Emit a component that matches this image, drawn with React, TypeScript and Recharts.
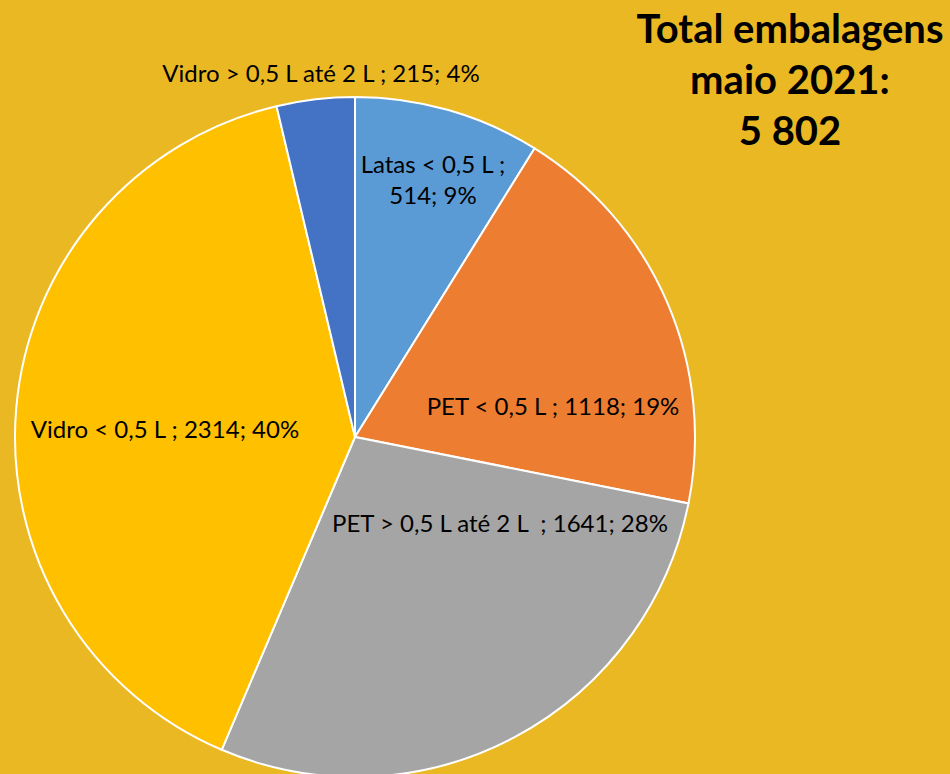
import { PieChart, Pie, Cell } from 'recharts';

const categories = ['Latas < 0,5 L', 'PET < 0,5 L', 'PET > 0,5 L até 2 L ', 'Vidro < 0,5 L', 'Vidro > 0,5 L até 2 L'];
const values = [514, 1118, 1641, 2314, 215];
const percents = ['9%', '19%', '28%', '40%', '4%'];
const colors = ['#5B9BD5', '#ED7D31', '#A5A5A5', '#FFC000', '#4472C4'];
const titleLines = ['Total embalagens', 'maio 2021:', '5 802'];

// label offsets from the pie centre (px), Excel "best fit" style
const labelOffsets: [number, number][] = [
  [78, -257],
  [198, -32],
  [145, 85],
  [-190, -9],
  [-34, -365],
];

const data = categories.map((name, i) => ({ name, value: values[i] }));

const FONT = 'Lato, "Open Sans", sans-serif';

function renderLabel(props: any) {
  const { cx, cy, index } = props;
  const [dx, dy] = labelOffsets[index];
  const x = cx + dx;
  const y = cy + dy;
  const name = categories[index];
  const val = values[index];
  const pct = percents[index];
  if (index === 0) {
    return (
      <text x={x} y={y} textAnchor="middle" fill="#000" fontSize={24} fontFamily={FONT}>
        <tspan x={x} dy={-7}>{name} ;</tspan>
        <tspan x={x} dy={31}>{val}; {pct}</tspan>
      </text>
    );
  }
  return (
    <text x={x} y={y} textAnchor="middle" dominantBaseline="central" fill="#000" fontSize={24} fontFamily={FONT} style={{ whiteSpace: 'pre' }}>
      {`${name} ; ${val}; ${pct}`}
    </text>
  );
}

export default function App() {
  return (
    <div style={{ position: 'fixed', left: 0, top: 0, width: 950, height: 774, background: '#EAB823', overflow: 'hidden' }}>
      <PieChart width={950} height={774} margin={{ top: 0, right: 0, bottom: 0, left: 0 }}>
        <Pie
          data={data}
          dataKey="value"
          nameKey="name"
          cx={355}
          cy={437}
          outerRadius={340}
          startAngle={90}
          endAngle={-270}
          stroke="#fff"
          strokeWidth={2}
          label={renderLabel}
          labelLine={false}
          isAnimationActive={false}
        >
          {data.map((d, i) => (
            <Cell key={d.name} fill={colors[i]} />
          ))}
        </Pie>
      </PieChart>
      <div style={{ position: 'absolute', left: 630, top: 3, width: 320, textAlign: 'center', fontFamily: FONT, fontWeight: 700, fontSize: 40, lineHeight: '51px', color: '#000' }}>
        {titleLines.map((t) => (
          <div key={t}>{t}</div>
        ))}
      </div>
    </div>
  );
}
